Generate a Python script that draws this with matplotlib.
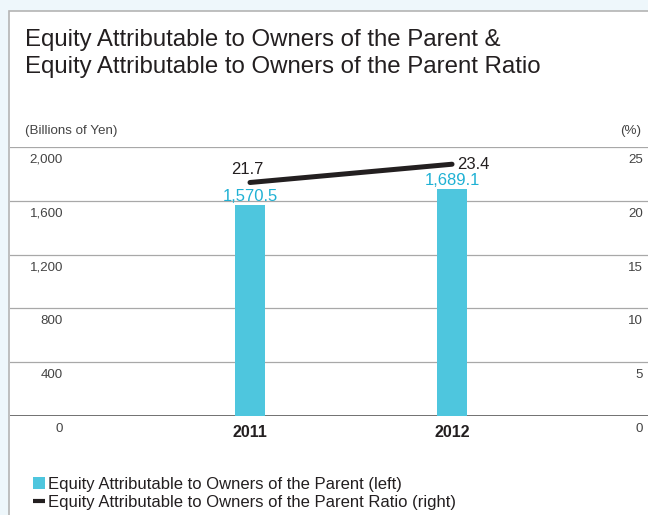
import matplotlib.pyplot as plt
from matplotlib.patches import Rectangle, Patch
from matplotlib.lines import Line2D

# data
years = ['2011', '2012']
equity = [1570.5, 1689.1]          # billions of yen (left axis)
ratio = [21.7, 23.4]               # % (right axis)
left_ticks = [0, 400, 800, 1200, 1600, 2000]
right_ticks = [0, 5, 10, 15, 20, 25]

bar_color = '#4ec6de'
label_color = '#1fb1d4'
line_color = '#231f20'
text_color = '#231f20'

plt.rcParams['font.family'] = ['Liberation Sans', 'DejaVu Sans']

W, H = 648, 515
fig = plt.figure(figsize=(W / 100, H / 100), dpi=100, facecolor='#eef7fb')

# white panel with grey border
panel = Rectangle((9 / W, -0.05), 1.2, 1 - 11 / H + 0.05, transform=fig.transFigure,
                  facecolor='white', edgecolor='#b4b4b4', linewidth=1.2, zorder=-5)
fig.patches.append(panel)

fig.text(25 / W, 1 - 46 / H, 'Equity Attributable to Owners of the Parent &',
         fontsize=17.3, color=text_color, va='baseline', ha='left')
fig.text(25 / W, 1 - 73 / H, 'Equity Attributable to Owners of the Parent Ratio',
         fontsize=17.3, color=text_color, va='baseline', ha='left')

fig.text(25 / W, 1 - 131 / H, '(Billions of Yen)', fontsize=9.6, color='#444444',
         va='center', ha='left')
fig.text(641 / W, 1 - 131 / H, '(%)', fontsize=9.6, color='#444444',
         va='center', ha='right')

ax = fig.add_axes([10 / W, 1 - 416 / H, 638 / W, 269 / H])
ax.set_facecolor('none')
ax.set_ylim(0, 2000)
x = list(range(len(years)))
ax.set_xlim(-1.188, 1.97)

for t in left_ticks:
    ax.axhline(t, color='#666666' if t == 0 else '#a8a8a8',
               lw=1.3 if t == 0 else 0.9, zorder=1)
    ax.annotate(f'{t:,}', xy=(0, t), xycoords=ax.get_yaxis_transform(),
                xytext=(53 * 0.72, -7 * 0.72), textcoords='offset points',
                ha='right', va='top', fontsize=9.6, color='#444444')

ax.bar(x, equity, width=0.153, color=bar_color, zorder=2)
for xi, v in zip(x, equity):
    ax.annotate(f'{v:,.1f}', xy=(xi, v), xytext=(0, 0.5), textcoords='offset points',
                ha='center', va='bottom', fontsize=12, color=label_color, zorder=4)

for xi, yr in zip(x, years):
    ax.annotate(yr, xy=(xi, 0), xytext=(0, -6.5), textcoords='offset points',
                ha='center', va='top', fontsize=11.5, fontweight='bold', color=text_color)

ax.set_xticks([])
ax.set_yticks([])
for s in ax.spines.values():
    s.set_visible(False)

ax2 = ax.twinx()
ax2.set_ylim(0, 25)
ax2.plot(x, ratio, color=line_color, lw=3.6, solid_capstyle='round', zorder=3)
ax2.annotate(f'{ratio[0]:.1f}', xy=(x[0], ratio[0]), xytext=(-2, 4), textcoords='offset points',
             ha='center', va='bottom', fontsize=12, color=text_color)
ax2.annotate(f'{ratio[1]:.1f}', xy=(x[1], ratio[1]), xytext=(4, 0), textcoords='offset points',
             ha='left', va='center', fontsize=12, color=text_color)
for t in right_ticks:
    ax2.annotate(f'{t}', xy=(1, t), xycoords=ax2.get_yaxis_transform(),
                 xytext=(-5 * 0.72, -7 * 0.72), textcoords='offset points',
                 ha='right', va='top', fontsize=9.6, color='#444444')
ax2.set_yticks([])
for s in ax2.spines.values():
    s.set_visible(False)

handles = [Patch(facecolor=bar_color, edgecolor='none'),
           Line2D([0], [0], color=line_color, lw=3, solid_capstyle='butt')]
labels = ['Equity Attributable to Owners of the Parent (left)',
          'Equity Attributable to Owners of the Parent Ratio (right)']
fig.legend(handles, labels, loc='upper left', bbox_to_anchor=(33 / W, 1 - 477 / H),
           frameon=False, fontsize=12, handlelength=0.7, handleheight=0.7,
           handletextpad=0.2, labelspacing=0.15, borderaxespad=0, borderpad=0,
           labelcolor=text_color)

fig.savefig('out.png', dpi=100, facecolor=fig.get_facecolor())
